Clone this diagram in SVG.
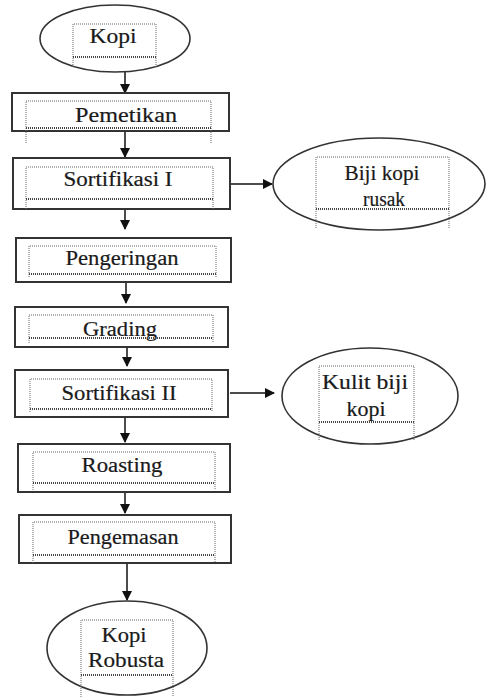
<svg xmlns="http://www.w3.org/2000/svg" width="486" height="697" viewBox="0 0 486 697">
<defs>
<style>
.box{fill:#fff;stroke:#333;stroke-width:2}
.ell{fill:#fff;stroke:#333;stroke-width:1.6}
.in{fill:none;stroke:#666;stroke-width:1;stroke-dasharray:1 1}
.bl{fill:none;stroke:#444;stroke-width:1.8;stroke-dasharray:1 1}
text{font-family:'Liberation Serif','Times New Roman',serif;font-size:20px;fill:#1a1a1a;stroke:#1a1a1a;stroke-width:0.2;text-anchor:middle}
.c{fill:none;stroke:#111;stroke-width:1.5}
</style>
<marker id="ah" markerWidth="10" markerHeight="10" refX="9" refY="5" orient="auto" markerUnits="userSpaceOnUse">
<path d="M0,0 L10,5 L0,10 Z" fill="#111"/>
</marker>
</defs>
<rect width="486" height="697" fill="#fff"/>

<g id="connectors">
<line class="c" x1="125" y1="72" x2="125" y2="93" marker-end="url(#ah)"/>
<line class="c" x1="125" y1="131" x2="125" y2="157" marker-end="url(#ah)"/>
<line class="c" x1="230" y1="184" x2="272" y2="184" marker-end="url(#ah)"/>
<line class="c" x1="125" y1="209" x2="125" y2="229" marker-end="url(#ah)"/>
<line class="c" x1="126" y1="282" x2="126" y2="303" marker-end="url(#ah)"/>
<line class="c" x1="127" y1="347" x2="127" y2="366" marker-end="url(#ah)"/>
<line class="c" x1="230" y1="393" x2="274" y2="393" marker-end="url(#ah)"/>
<line class="c" x1="125" y1="417" x2="125" y2="442" marker-end="url(#ah)"/>
<line class="c" x1="125" y1="492" x2="125" y2="513" marker-end="url(#ah)"/>
<line class="c" x1="127" y1="555" x2="127" y2="600" marker-end="url(#ah)"/>
</g>

<g id="kopi">
<ellipse class="ell" cx="115" cy="38.5" rx="75" ry="33.5"/>
<path class="in" d="M73,67 V24 H156 V67"/>
<line class="bl" x1="73" y1="57" x2="156" y2="57"/>
<text x="113" y="43" textLength="47" lengthAdjust="spacingAndGlyphs">Kopi</text>
</g>

<g id="pemetikan">
<rect class="box" x="12" y="93" width="217" height="38"/>
<path class="in" d="M26,143 V101 H211 V143"/>
<line class="bl" x1="26" y1="128" x2="211" y2="128"/>
<text x="126" y="122" textLength="102" lengthAdjust="spacingAndGlyphs">Pemetikan</text>
</g>

<g id="sortifikasi1">
<rect class="box" x="13" y="158" width="217" height="51"/>
<path class="in" d="M26,209 V167 H213 V209"/>
<line class="bl" x1="26" y1="199" x2="213" y2="199"/>
<text x="118" y="186" textLength="109" lengthAdjust="spacingAndGlyphs">Sortifikasi I</text>
</g>

<g id="biji-kopi-rusak">
<ellipse class="ell" cx="379" cy="184" rx="106" ry="46"/>
<path class="in" d="M316,228 V157 H449 V228"/>
<line class="bl" x1="316" y1="209" x2="449" y2="209"/>
<text x="382" y="180" textLength="75" lengthAdjust="spacingAndGlyphs">Biji kopi</text>
<text x="384" y="206" textLength="42" lengthAdjust="spacingAndGlyphs">rusak</text>
</g>

<g id="pengeringan">
<rect class="box" x="16" y="238" width="215" height="44"/>
<path class="in" d="M29,277 V246 H216 V277"/>
<line class="bl" x1="29" y1="274" x2="216" y2="274"/>
<text x="122" y="265" textLength="113" lengthAdjust="spacingAndGlyphs">Pengeringan</text>
</g>

<g id="grading">
<rect class="box" x="15" y="307" width="213" height="40"/>
<path class="in" d="M29,343 V315 H213 V343"/>
<text x="120" y="336" textLength="74" lengthAdjust="spacingAndGlyphs">Grading</text>
<line class="bl" x1="29" y1="338" x2="213" y2="338"/>
</g>

<g id="sortifikasi2">
<rect class="box" x="15" y="370" width="213" height="47"/>
<path class="in" d="M30,412 V379 H212 V412"/>
<line class="bl" x1="30" y1="409" x2="212" y2="409"/>
<text x="119" y="400" textLength="115" lengthAdjust="spacingAndGlyphs">Sortifikasi II</text>
</g>

<g id="kulit-biji-kopi">
<ellipse class="ell" cx="370" cy="396" rx="88" ry="48"/>
<path class="in" d="M319,440 V366 H414 V440"/>
<line class="bl" x1="319" y1="422" x2="414" y2="422"/>
<text x="365" y="389" textLength="86" lengthAdjust="spacingAndGlyphs">Kulit biji</text>
<text x="366" y="416" textLength="39" lengthAdjust="spacingAndGlyphs">kopi</text>
</g>

<g id="roasting">
<rect class="box" x="18" y="444" width="212" height="48"/>
<path class="in" d="M33,490 V452 H215 V490"/>
<line class="bl" x1="33" y1="483" x2="215" y2="483"/>
<text x="122" y="472" textLength="81" lengthAdjust="spacingAndGlyphs">Roasting</text>
</g>

<g id="pengemasan">
<rect class="box" x="19" y="515" width="212" height="48"/>
<path class="in" d="M33,563 V522 H215 V563"/>
<line class="bl" x1="33" y1="555" x2="215" y2="555"/>
<text x="123" y="544" textLength="111" lengthAdjust="spacingAndGlyphs">Pengemasan</text>
</g>

<g id="kopi-robusta">
<ellipse class="ell" cx="127" cy="648" rx="80" ry="47"/>
<path class="in" d="M81,697 V620 H173 V697"/>
<line class="bl" x1="81" y1="675" x2="173" y2="675"/>
<text x="124" y="642" textLength="45" lengthAdjust="spacingAndGlyphs">Kopi</text>
<text x="126" y="667" textLength="76" lengthAdjust="spacingAndGlyphs">Robusta</text>
</g>
</svg>
